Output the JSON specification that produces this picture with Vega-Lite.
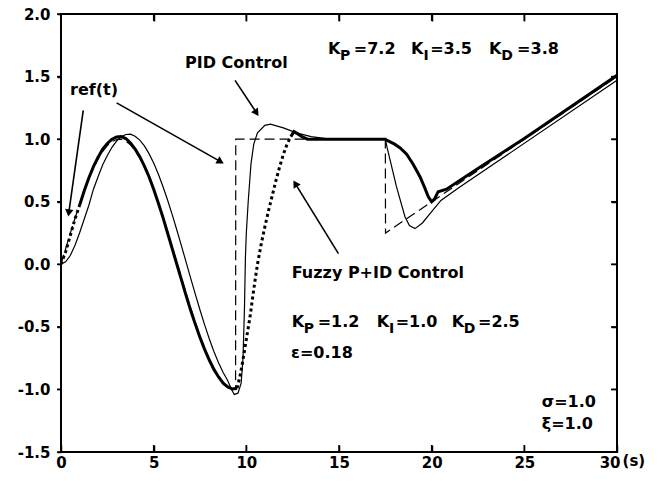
{
  "$schema": "https://vega.github.io/schema/vega-lite/v6.json",
  "width": 556,
  "height": 438,
  "autosize": {"type": "none"},
  "padding": {"left": 61, "top": 14, "right": 46, "bottom": 29},
  "background": "#ffffff",
  "config": {
    "view": {"stroke": "#000000", "strokeWidth": 2},
    "axis": {
      "labelFont": "DejaVu Sans",
      "labelFontWeight": "bold",
      "labelFontSize": 15,
      "labelColor": "#000000",
      "ticks": true,
      "tickColor": "#000000",
      "tickOpacity": 1,
      "tickWidth": 1.5,
      "domain": false,
      "grid": false,
      "title": null,
      "labelFlush": false,
      "labelOverlap": false,
      "zindex": 2
    },
    "text": {"font": "DejaVu Sans", "fontWeight": "bold", "fontSize": 16, "color": "#000000", "align": "left", "baseline": "alphabetic"}
  },
  "datasets": {
    "curves": [
      {"s": "ref", "t": 0, "v": 0}, {"s": "ref", "t": 0.25, "v": 0.124}, {"s": "ref", "t": 0.5, "v": 0.247}, {"s": "ref", "t": 0.75, "v": 0.366},
      {"s": "ref", "t": 1, "v": 0.479}, {"s": "ref", "t": 1.25, "v": 0.582}, {"s": "ref", "t": 1.5, "v": 0.682}, {"s": "ref", "t": 1.75, "v": 0.767},
      {"s": "ref", "t": 2, "v": 0.841}, {"s": "ref", "t": 2.25, "v": 0.902}, {"s": "ref", "t": 2.5, "v": 0.949}, {"s": "ref", "t": 2.75, "v": 0.981},
      {"s": "ref", "t": 3, "v": 0.997}, {"s": "ref", "t": 3.25, "v": 0.999}, {"s": "ref", "t": 3.5, "v": 0.984}, {"s": "ref", "t": 3.75, "v": 0.954},
      {"s": "ref", "t": 4, "v": 0.909}, {"s": "ref", "t": 4.25, "v": 0.85}, {"s": "ref", "t": 4.5, "v": 0.778}, {"s": "ref", "t": 4.75, "v": 0.693},
      {"s": "ref", "t": 5, "v": 0.598}, {"s": "ref", "t": 5.25, "v": 0.494}, {"s": "ref", "t": 5.5, "v": 0.381}, {"s": "ref", "t": 5.75, "v": 0.263},
      {"s": "ref", "t": 6, "v": 0.141}, {"s": "ref", "t": 6.25, "v": 0.016}, {"s": "ref", "t": 6.5, "v": -0.108}, {"s": "ref", "t": 6.75, "v": -0.231},
      {"s": "ref", "t": 7, "v": -0.351}, {"s": "ref", "t": 7.25, "v": -0.465}, {"s": "ref", "t": 7.5, "v": -0.572}, {"s": "ref", "t": 7.75, "v": -0.67},
      {"s": "ref", "t": 8, "v": -0.757}, {"s": "ref", "t": 8.25, "v": -0.832}, {"s": "ref", "t": 8.5, "v": -0.895}, {"s": "ref", "t": 8.75, "v": -0.944},
      {"s": "ref", "t": 9, "v": -0.978}, {"s": "ref", "t": 9.25, "v": -0.996}, {"s": "ref", "t": 9.42, "v": -1.0}, {"s": "ref", "t": 9.43, "v": 1.0},
      {"s": "ref", "t": 17.5, "v": 1.0}, {"s": "ref", "t": 17.51, "v": 0.25}, {"s": "ref", "t": 30, "v": 1.5},

      {"s": "pid", "t": 0, "v": 0}, {"s": "pid", "t": 0.25, "v": 0.02}, {"s": "pid", "t": 0.5, "v": 0.07}, {"s": "pid", "t": 0.75, "v": 0.15},
      {"s": "pid", "t": 1, "v": 0.25}, {"s": "pid", "t": 1.25, "v": 0.36}, {"s": "pid", "t": 1.5, "v": 0.47}, {"s": "pid", "t": 1.75, "v": 0.6},
      {"s": "pid", "t": 2, "v": 0.7}, {"s": "pid", "t": 2.25, "v": 0.795}, {"s": "pid", "t": 2.5, "v": 0.87}, {"s": "pid", "t": 2.75, "v": 0.935},
      {"s": "pid", "t": 3, "v": 0.985}, {"s": "pid", "t": 3.25, "v": 1.02}, {"s": "pid", "t": 3.5, "v": 1.037}, {"s": "pid", "t": 3.75, "v": 1.04},
      {"s": "pid", "t": 4, "v": 1.023}, {"s": "pid", "t": 4.25, "v": 0.992}, {"s": "pid", "t": 4.5, "v": 0.946}, {"s": "pid", "t": 4.75, "v": 0.884},
      {"s": "pid", "t": 5, "v": 0.809}, {"s": "pid", "t": 5.25, "v": 0.722}, {"s": "pid", "t": 5.5, "v": 0.622}, {"s": "pid", "t": 5.75, "v": 0.514},
      {"s": "pid", "t": 6, "v": 0.397}, {"s": "pid", "t": 6.25, "v": 0.274}, {"s": "pid", "t": 6.5, "v": 0.147}, {"s": "pid", "t": 6.75, "v": 0.017},
      {"s": "pid", "t": 7, "v": -0.113}, {"s": "pid", "t": 7.25, "v": -0.24}, {"s": "pid", "t": 7.5, "v": -0.365}, {"s": "pid", "t": 7.75, "v": -0.484},
      {"s": "pid", "t": 8, "v": -0.595}, {"s": "pid", "t": 8.25, "v": -0.697}, {"s": "pid", "t": 8.5, "v": -0.787}, {"s": "pid", "t": 8.75, "v": -0.865},
      {"s": "pid", "t": 9, "v": -0.931}, {"s": "pid", "t": 9.2, "v": -1.0}, {"s": "pid", "t": 9.35, "v": -1.04}, {"s": "pid", "t": 9.55, "v": -1.03},
      {"s": "pid", "t": 9.72, "v": -0.95}, {"s": "pid", "t": 9.82, "v": -0.75}, {"s": "pid", "t": 9.9, "v": -0.35}, {"s": "pid", "t": 9.95, "v": 0.05},
      {"s": "pid", "t": 10.0, "v": 0.25}, {"s": "pid", "t": 10.1, "v": 0.5}, {"s": "pid", "t": 10.25, "v": 0.8}, {"s": "pid", "t": 10.4, "v": 0.96},
      {"s": "pid", "t": 10.6, "v": 1.05}, {"s": "pid", "t": 11, "v": 1.11}, {"s": "pid", "t": 11.3, "v": 1.12}, {"s": "pid", "t": 12, "v": 1.09},
      {"s": "pid", "t": 12.7, "v": 1.05}, {"s": "pid", "t": 13.5, "v": 1.02}, {"s": "pid", "t": 14.5, "v": 1.0}, {"s": "pid", "t": 17.5, "v": 1.0},
      {"s": "pid", "t": 17.6, "v": 0.93}, {"s": "pid", "t": 18.1, "v": 0.62}, {"s": "pid", "t": 18.56, "v": 0.38}, {"s": "pid", "t": 18.8, "v": 0.31},
      {"s": "pid", "t": 19.1, "v": 0.285}, {"s": "pid", "t": 19.5, "v": 0.33}, {"s": "pid", "t": 20, "v": 0.42}, {"s": "pid", "t": 20.5, "v": 0.51},
      {"s": "pid", "t": 21.5, "v": 0.615}, {"s": "pid", "t": 30, "v": 1.47},

      {"s": "fuzzy_a", "t": 0, "v": 0}, {"s": "fuzzy_a", "t": 0.25, "v": 0.1}, {"s": "fuzzy_a", "t": 0.5, "v": 0.23}, {"s": "fuzzy_a", "t": 0.75, "v": 0.36}, {"s": "fuzzy_a", "t": 1, "v": 0.47},

      {"s": "fuzzy_b", "t": 1, "v": 0.47}, {"s": "fuzzy_b", "t": 1.25, "v": 0.585}, {"s": "fuzzy_b", "t": 1.5, "v": 0.69}, {"s": "fuzzy_b", "t": 1.75, "v": 0.78},
      {"s": "fuzzy_b", "t": 2, "v": 0.855}, {"s": "fuzzy_b", "t": 2.25, "v": 0.92}, {"s": "fuzzy_b", "t": 2.5, "v": 0.965}, {"s": "fuzzy_b", "t": 2.75, "v": 1.0},
      {"s": "fuzzy_b", "t": 3, "v": 1.018}, {"s": "fuzzy_b", "t": 3.25, "v": 1.02}, {"s": "fuzzy_b", "t": 3.5, "v": 1.005}, {"s": "fuzzy_b", "t": 3.75, "v": 0.97},
      {"s": "fuzzy_b", "t": 4, "v": 0.92}, {"s": "fuzzy_b", "t": 4.25, "v": 0.86}, {"s": "fuzzy_b", "t": 4.5, "v": 0.785}, {"s": "fuzzy_b", "t": 4.75, "v": 0.7},
      {"s": "fuzzy_b", "t": 5, "v": 0.6}, {"s": "fuzzy_b", "t": 5.25, "v": 0.49}, {"s": "fuzzy_b", "t": 5.5, "v": 0.375}, {"s": "fuzzy_b", "t": 5.75, "v": 0.25},
      {"s": "fuzzy_b", "t": 6, "v": 0.125}, {"s": "fuzzy_b", "t": 6.25, "v": 0.0}, {"s": "fuzzy_b", "t": 6.5, "v": -0.125}, {"s": "fuzzy_b", "t": 6.75, "v": -0.25},
      {"s": "fuzzy_b", "t": 7, "v": -0.37}, {"s": "fuzzy_b", "t": 7.25, "v": -0.48}, {"s": "fuzzy_b", "t": 7.5, "v": -0.585}, {"s": "fuzzy_b", "t": 7.75, "v": -0.68},
      {"s": "fuzzy_b", "t": 8, "v": -0.765}, {"s": "fuzzy_b", "t": 8.25, "v": -0.84}, {"s": "fuzzy_b", "t": 8.5, "v": -0.9}, {"s": "fuzzy_b", "t": 8.75, "v": -0.95},
      {"s": "fuzzy_b", "t": 9, "v": -0.98}, {"s": "fuzzy_b", "t": 9.25, "v": -0.997}, {"s": "fuzzy_b", "t": 9.5, "v": -0.99},

      {"s": "fuzzy_c", "t": 9.5, "v": -0.99}, {"s": "fuzzy_c", "t": 9.65, "v": -0.9}, {"s": "fuzzy_c", "t": 9.8, "v": -0.78}, {"s": "fuzzy_c", "t": 10, "v": -0.6},
      {"s": "fuzzy_c", "t": 10.2, "v": -0.42}, {"s": "fuzzy_c", "t": 10.4, "v": -0.2}, {"s": "fuzzy_c", "t": 10.6, "v": 0.0}, {"s": "fuzzy_c", "t": 10.8, "v": 0.16},
      {"s": "fuzzy_c", "t": 11, "v": 0.3}, {"s": "fuzzy_c", "t": 11.2, "v": 0.43}, {"s": "fuzzy_c", "t": 11.4, "v": 0.55}, {"s": "fuzzy_c", "t": 11.6, "v": 0.67},
      {"s": "fuzzy_c", "t": 11.8, "v": 0.78}, {"s": "fuzzy_c", "t": 12, "v": 0.88}, {"s": "fuzzy_c", "t": 12.2, "v": 0.96}, {"s": "fuzzy_c", "t": 12.4, "v": 1.02},

      {"s": "fuzzy_d", "t": 12.4, "v": 1.02}, {"s": "fuzzy_d", "t": 12.57, "v": 1.06}, {"s": "fuzzy_d", "t": 12.8, "v": 1.04}, {"s": "fuzzy_d", "t": 13, "v": 1.02},
      {"s": "fuzzy_d", "t": 13.3, "v": 1.0}, {"s": "fuzzy_d", "t": 17.5, "v": 1.0}, {"s": "fuzzy_d", "t": 17.6, "v": 0.99}, {"s": "fuzzy_d", "t": 18, "v": 0.96},
      {"s": "fuzzy_d", "t": 18.3, "v": 0.93}, {"s": "fuzzy_d", "t": 18.65, "v": 0.88}, {"s": "fuzzy_d", "t": 19, "v": 0.8}, {"s": "fuzzy_d", "t": 19.37, "v": 0.7},
      {"s": "fuzzy_d", "t": 19.6, "v": 0.62}, {"s": "fuzzy_d", "t": 19.82, "v": 0.54}, {"s": "fuzzy_d", "t": 20, "v": 0.5}, {"s": "fuzzy_d", "t": 20.15, "v": 0.52},
      {"s": "fuzzy_d", "t": 20.35, "v": 0.58}, {"s": "fuzzy_d", "t": 20.8, "v": 0.6}, {"s": "fuzzy_d", "t": 22.6, "v": 0.775}, {"s": "fuzzy_d", "t": 25, "v": 1.005},
      {"s": "fuzzy_d", "t": 30, "v": 1.51}
    ],
    "ticks": [
      {"edge": "bottom", "t": 5, "v": -1.5}, {"edge": "bottom", "t": 10, "v": -1.5}, {"edge": "bottom", "t": 15, "v": -1.5}, {"edge": "bottom", "t": 20, "v": -1.5}, {"edge": "bottom", "t": 25, "v": -1.5},
      {"edge": "top", "t": 5, "v": 2}, {"edge": "top", "t": 10, "v": 2}, {"edge": "top", "t": 15, "v": 2}, {"edge": "top", "t": 20, "v": 2}, {"edge": "top", "t": 25, "v": 2},
      {"edge": "right", "t": 30, "v": -1}, {"edge": "right", "t": 30, "v": -0.5}, {"edge": "right", "t": 30, "v": 0}, {"edge": "right", "t": 30, "v": 0.5}, {"edge": "right", "t": 30, "v": 1}, {"edge": "right", "t": 30, "v": 1.5},
      {"edge": "left", "t": 0, "v": -1.5}, {"edge": "left", "t": 0, "v": -1}, {"edge": "left", "t": 0, "v": -0.5}, {"edge": "left", "t": 0, "v": 0}, {"edge": "left", "t": 0, "v": 0.5}, {"edge": "left", "t": 0, "v": 1}, {"edge": "left", "t": 0, "v": 1.5}, {"edge": "left", "t": 0, "v": 2}
    ],
    "labels": [
      {"kind": "main", "t": 6.69, "v": 1.57, "text": "PID Control"},
      {"kind": "main", "t": 0.49, "v": 1.355, "text": "ref(t)"},
      {"kind": "main", "t": 14.41, "v": 1.681, "text": "K"},
      {"kind": "sub", "t": 15.05, "v": 1.681, "text": "P"},
      {"kind": "main", "t": 15.8, "v": 1.681, "text": "=7.2"},
      {"kind": "main", "t": 18.89, "v": 1.681, "text": "K"},
      {"kind": "sub", "t": 19.56, "v": 1.681, "text": "I"},
      {"kind": "main", "t": 19.92, "v": 1.681, "text": "=3.5"},
      {"kind": "main", "t": 23.1, "v": 1.681, "text": "K"},
      {"kind": "sub", "t": 23.75, "v": 1.681, "text": "D"},
      {"kind": "main", "t": 24.61, "v": 1.681, "text": "=3.8"},
      {"kind": "main", "t": 12.45, "v": -0.11, "text": "Fuzzy P+ID Control"},
      {"kind": "main", "t": 12.45, "v": -0.5, "text": "K"},
      {"kind": "sub", "t": 13.1, "v": -0.5, "text": "P"},
      {"kind": "main", "t": 13.85, "v": -0.5, "text": "=1.2"},
      {"kind": "main", "t": 17.04, "v": -0.5, "text": "K"},
      {"kind": "sub", "t": 17.7, "v": -0.5, "text": "I"},
      {"kind": "main", "t": 18.06, "v": -0.5, "text": "=1.0"},
      {"kind": "main", "t": 21.08, "v": -0.5, "text": "K"},
      {"kind": "sub", "t": 21.73, "v": -0.5, "text": "D"},
      {"kind": "main", "t": 22.5, "v": -0.5, "text": "=2.5"},
      {"kind": "main", "t": 12.41, "v": -0.749, "text": "ε=0.18"},
      {"kind": "main", "t": 25.94, "v": -1.137, "text": "σ=1.0"},
      {"kind": "main", "t": 25.94, "v": -1.32, "text": "ξ=1.0"},
      {"kind": "axisnote", "t": 30.3, "v": -1.5, "text": "(s)"}
    ],
    "arrows": [
      {"t": 1.2, "v": 1.23, "t2": 0.42, "v2": 0.41, "a": 188},
      {"t": 3.0, "v": 1.29, "t2": 8.61, "v2": 0.82, "a": 119.6},
      {"t": 9.39, "v": 1.47, "t2": 10.55, "v2": 1.21, "a": 146.3},
      {"t": 14.97, "v": 0.085, "t2": 12.64, "v2": 0.645, "a": 328.5}
    ]
  },
  "layer": [
    {
      "data": {"name": "curves"},
      "transform": [{"filter": "datum.s == 'ref'"}],
      "mark": {"type": "line", "color": "#000000", "strokeWidth": 1.2, "strokeDash": [10, 5], "clip": true},
      "encoding": {
        "x": {
          "field": "t", "type": "quantitative",
          "scale": {"domain": [0, 30], "nice": false, "zero": false},
          "axis": {
            "orient": "bottom", "values": [0, 5, 10, 15, 20, 25, 30], "format": "d",
            "offset": -7, "tickSize": 7, "labelPadding": 3,
            "labelAlign": {"condition": {"test": "datum.value == 30", "value": "right"}, "value": "center"},
            "labelOffset": {"condition": {"test": "datum.value == 30", "value": 3}, "value": 0}
          }
        },
        "y": {
          "field": "v", "type": "quantitative",
          "scale": {"domain": [-1.5, 2], "nice": false, "zero": false},
          "axis": {"orient": "left", "values": [-1.5, -1, -0.5, 0, 0.5, 1, 1.5, 2], "labelExpr": "datum.value < 0 ? '-' + format(-datum.value, '.1f') : format(datum.value, '.1f')", "tickSize": 4, "labelPadding": 7}
        }
      }
    },
    {
      "data": {"name": "curves"},
      "mark": {"type": "point", "opacity": 0},
      "encoding": {
        "x": {"field": "t", "type": "quantitative", "axis": {"orient": "top", "labels": false, "values": [5, 10, 15, 20, 25], "offset": -7, "tickSize": 7}},
        "y": {"field": "v", "type": "quantitative", "axis": {"orient": "right", "labels": false, "values": [-1, -0.5, 0, 0.5, 1, 1.5], "offset": -6, "tickSize": 6}}
      }
    },
    {
      "data": {"name": "ticks"},
      "transform": [{"filter": "datum.edge == 'bottom'"}],
      "mark": {"type": "point", "shape": "M0,0L0,-1", "size": 196, "filled": false, "strokeWidth": 1.5, "color": "#000000", "opacity": 1},
      "encoding": {
        "x": {"field": "t", "type": "quantitative", "axis": null},
        "y": {"field": "v", "type": "quantitative", "axis": null}
      }
    },
    {
      "data": {"name": "ticks"},
      "transform": [{"filter": "datum.edge == 'top'"}],
      "mark": {"type": "point", "shape": "M0,0L0,1", "size": 196, "filled": false, "strokeWidth": 1.5, "color": "#000000", "opacity": 1},
      "encoding": {
        "x": {"field": "t", "type": "quantitative", "axis": null},
        "y": {"field": "v", "type": "quantitative", "axis": null}
      }
    },
    {
      "data": {"name": "ticks"},
      "transform": [{"filter": "datum.edge == 'right'"}],
      "mark": {"type": "point", "shape": "M0,0L-1,0", "size": 144, "filled": false, "strokeWidth": 1.5, "color": "#000000", "opacity": 1},
      "encoding": {
        "x": {"field": "t", "type": "quantitative", "axis": null},
        "y": {"field": "v", "type": "quantitative", "axis": null}
      }
    },
    {
      "data": {"name": "ticks"},
      "transform": [{"filter": "datum.edge == 'left'"}],
      "mark": {"type": "point", "shape": "M0,0L-1,0", "size": 64, "filled": false, "strokeWidth": 1.5, "color": "#000000", "opacity": 1},
      "encoding": {
        "x": {"field": "t", "type": "quantitative", "axis": null},
        "y": {"field": "v", "type": "quantitative", "axis": null}
      }
    },
    {
      "data": {"name": "curves"},
      "transform": [{"filter": "datum.s == 'pid'"}],
      "mark": {"type": "line", "color": "#000000", "strokeWidth": 1.2, "clip": true},
      "encoding": {
        "x": {"field": "t", "type": "quantitative", "axis": null},
        "y": {"field": "v", "type": "quantitative", "axis": null}
      }
    },
    {
      "data": {"name": "curves"},
      "transform": [{"filter": "datum.s == 'fuzzy_b' || datum.s == 'fuzzy_d'"}],
      "mark": {"type": "line", "color": "#000000", "strokeWidth": 3, "clip": true},
      "encoding": {
        "x": {"field": "t", "type": "quantitative", "axis": null},
        "y": {"field": "v", "type": "quantitative", "axis": null},
        "detail": {"field": "s", "type": "nominal"}
      }
    },
    {
      "data": {"name": "curves"},
      "transform": [{"filter": "datum.s == 'fuzzy_a' || datum.s == 'fuzzy_c'"}],
      "mark": {"type": "line", "color": "#000000", "strokeWidth": 3, "strokeDash": [3, 3], "clip": true},
      "encoding": {
        "x": {"field": "t", "type": "quantitative", "axis": null},
        "y": {"field": "v", "type": "quantitative", "axis": null},
        "detail": {"field": "s", "type": "nominal"}
      }
    },
    {
      "data": {"name": "arrows"},
      "mark": {"type": "rule", "color": "#000000", "strokeWidth": 1.6},
      "encoding": {
        "x": {"field": "t", "type": "quantitative", "axis": null},
        "y": {"field": "v", "type": "quantitative", "axis": null},
        "x2": {"field": "t2"},
        "y2": {"field": "v2"}
      }
    },
    {
      "data": {"name": "arrows"},
      "mark": {"type": "point", "shape": "triangle-up", "filled": true, "color": "#000000", "size": 70, "opacity": 1},
      "encoding": {
        "x": {"field": "t2", "type": "quantitative", "axis": null},
        "y": {"field": "v2", "type": "quantitative", "axis": null},
        "angle": {"field": "a", "type": "quantitative", "scale": null}
      }
    },
    {
      "data": {"name": "labels"},
      "transform": [{"filter": "datum.kind == 'main'"}],
      "mark": {"type": "text"},
      "encoding": {
        "x": {"field": "t", "type": "quantitative", "axis": null},
        "y": {"field": "v", "type": "quantitative", "axis": null},
        "text": {"field": "text"}
      }
    },
    {
      "data": {"name": "labels"},
      "transform": [{"filter": "datum.kind == 'sub'"}],
      "mark": {"type": "text", "fontSize": 14, "dy": 6},
      "encoding": {
        "x": {"field": "t", "type": "quantitative", "axis": null},
        "y": {"field": "v", "type": "quantitative", "axis": null},
        "text": {"field": "text"}
      }
    },
    {
      "data": {"name": "labels"},
      "transform": [{"filter": "datum.kind == 'axisnote'"}],
      "mark": {"type": "text", "fontSize": 15, "baseline": "top", "dy": 2},
      "encoding": {
        "x": {"field": "t", "type": "quantitative", "axis": null},
        "y": {"field": "v", "type": "quantitative", "axis": null},
        "text": {"field": "text"}
      }
    }
  ]
}
